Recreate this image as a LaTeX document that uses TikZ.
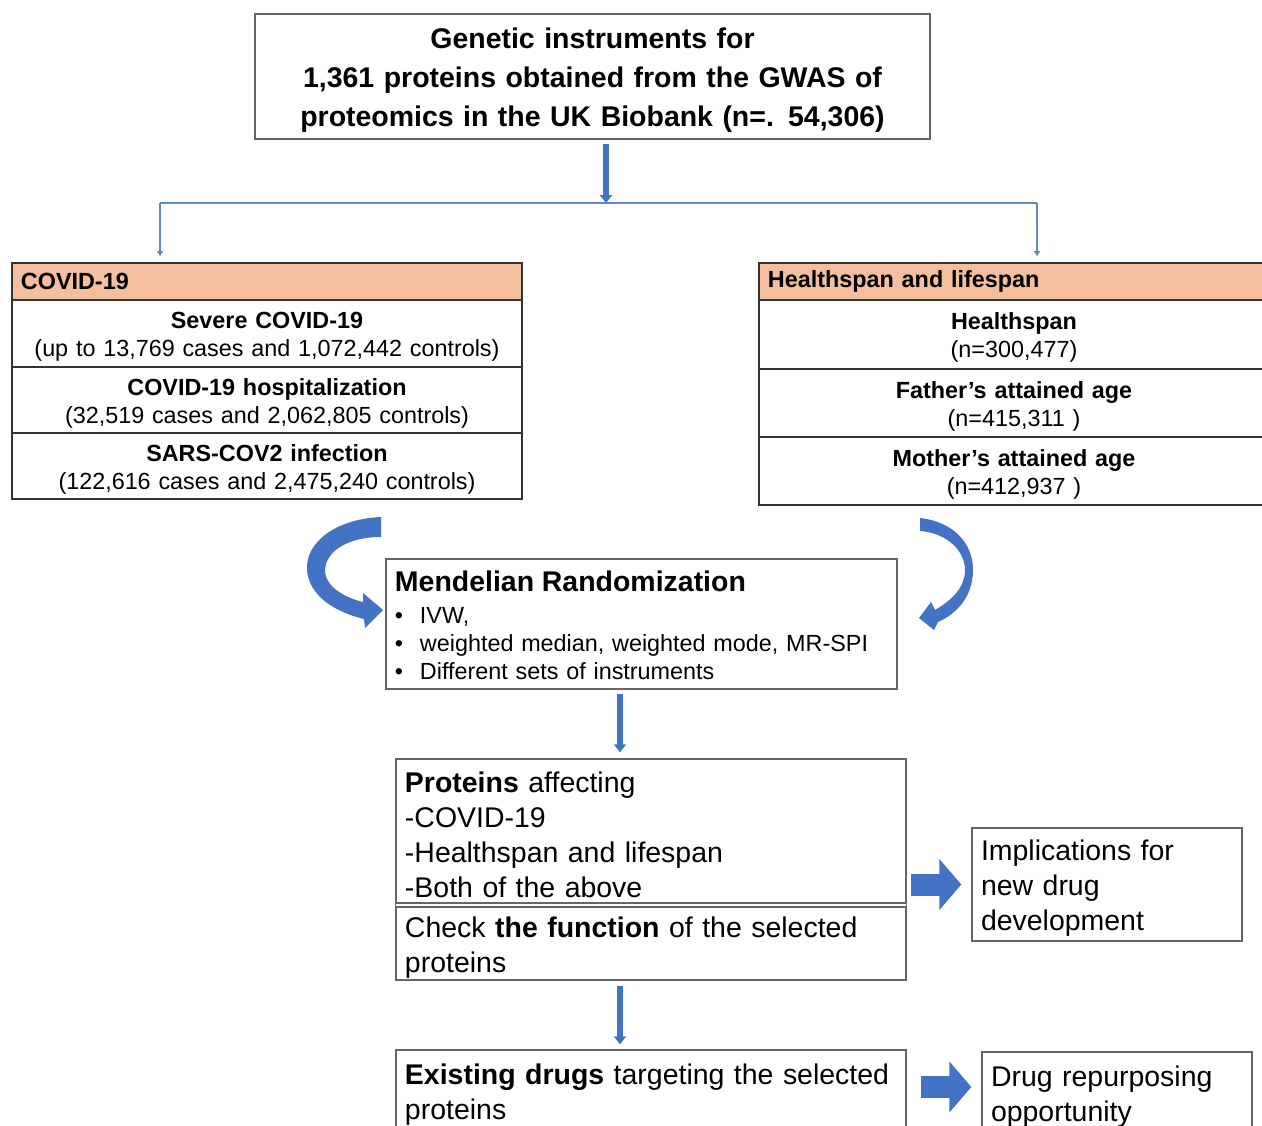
\documentclass[tikz,border=0pt]{standalone}
\usepackage{fontspec}
\setmainfont{Liberation Sans}
\usetikzlibrary{arrows.meta,calc}
\definecolor{arrowblue}{HTML}{4472C4}
\definecolor{peach}{HTML}{F3BF9C}
\newcommand{\lgfont}{\fontsize{16.2pt}{22.2pt}\selectfont}
\newcommand{\mdfont}{\fontsize{16.2pt}{19.9pt}\selectfont}
\newcommand{\smfont}{\fontsize{13.3pt}{15.9pt}\selectfont}
\newcommand{\placebox}[7]{
	\pgfmathsetmacro{\boxw}{(#4-#2)*0.02}
	\pgfmathsetmacro{\boxh}{(#5-#3)*0.02}
	\pgfmathsetmacro{\textw}{\boxw-0.36}
	\node[#6, minimum width=\boxw cm, minimum height=\boxh cm, text width=\textw cm] (#1) at ({(#2+#4)/2},{(#3+#5)/2}) {#7};
}
\newcommand{\mritem}[1]{\makebox[0.5cm][l]{\textbullet}#1}
\tikzset{
	lift/.style={execute at begin node={\rule{0pt}{1em}}},
	frame/.style={draw=black!60, line width=0.8pt, inner xsep=0.18cm, inner ysep=0pt, align=left, font=\mdfont, lift},
	cell/.style={draw=black!80, line width=0.9pt, inner xsep=0.18cm, inner ysep=0pt, align=center, font=\smfont, lift},
	headcell/.style={draw=black!80, line width=0.9pt, inner xsep=0.18cm, inner ysep=0pt, fill=peach, align=left, font=\smfont\bfseries},
	flow/.style={draw=arrowblue, line width=3.4pt, -{Triangle[length=0.16cm,width=0.24cm]}},
	feed/.style={draw=arrowblue!85, line width=0.7pt},
	fat/.style={draw=arrowblue, line width=0.44cm, -{Triangle[length=0.44cm,width=1cm]}}
}

\begin{document}
\begin{tikzpicture}[x=0.02cm, y=-0.02cm]
	\useasboundingbox (0,0) rectangle (1262,1126);
	\placebox{top}{255}{14}{930}{139}{frame, align=center, font=\lgfont\bfseries}{Genetic instruments for\\1,361 proteins obtained from the GWAS of\\proteomics in the UK Biobank (n=. 54,306)}

	\placebox{covhead}{12}{263}{522}{300}{headcell}{COVID-19}
	\placebox{covA}{12}{300}{522}{367}{cell}{\textbf{Severe COVID-19}\\(up to 13,769 cases and 1,072,442 controls)}
	\placebox{covB}{12}{367}{522}{433}{cell}{\textbf{COVID-19 hospitalization}\\(32,519 cases and 2,062,805 controls)}
	\placebox{covC}{12}{433}{522}{499}{cell}{\textbf{SARS-COV2 infection}\\(122,616 cases and 2,475,240 controls)}

	\placebox{lifehead}{759}{263}{1269}{300}{headcell}{Healthspan and lifespan}
	\placebox{lifeA}{759}{300}{1269}{369}{cell}{\textbf{Healthspan}\\(n=300,477)}
	\placebox{lifeB}{759}{369}{1269}{437}{cell}{\textbf{Father’s attained age}\\(n=415,311 )}
	\placebox{lifeC}{759}{437}{1269}{505}{cell}{\textbf{Mother’s attained age}\\(n=412,937 )}

	\placebox{mr}{386}{559}{897}{689}{frame, font=\smfont}{{\lgfont\bfseries Mendelian Randomization}\\[2pt]\mritem{IVW,}\\\mritem{weighted median, weighted mode, MR-SPI}\\\mritem{Different sets of instruments}}

	\placebox{prot}{396}{759}{906}{903}{frame}{\textbf{Proteins} affecting\\-COVID-19\\-Healthspan and lifespan\\-Both of the above}
	\placebox{func}{396}{907}{906}{980}{frame}{Check \textbf{the function} of the selected\\proteins}
	\draw[black!60, line width=0.8pt] (prot.north west) rectangle (func.south east);
	\placebox{impl}{972}{828}{1242}{941}{frame}{Implications for\\new drug\\development}

	\placebox{drugs}{396}{1050}{906}{1131}{frame}{\textbf{Existing drugs} targeting the selected\\proteins}
	\placebox{repurp}{982}{1052}{1252}{1133}{frame}{Drug repurposing\\opportunity}

	\coordinate (split) at (606,203);
	\coordinate (ltap) at (160,203);
	\coordinate (rtap) at (1037,203);
	\draw[flow, shorten <=0.08cm] (top.south -| split) -- (split);
	\draw[feed] (ltap) -- (rtap);
	\draw[feed, -{Triangle[length=0.1cm,width=0.12cm]}, shorten >=0.12cm] (ltap) -- (ltap |- covhead.north);
	\draw[feed, -{Triangle[length=0.1cm,width=0.12cm]}, shorten >=0.12cm] (rtap) -- (rtap |- lifehead.north);

	% bent arrows into the MR box
	\fill[arrowblue] (381,517) .. controls (335,519) and (305,543) .. (307,570) .. controls (309,596) and (335,612) .. (364,619) -- (365,628) -- (383,610) -- (363,593) -- (363,602) .. controls (343,597) and (325,586) .. (325,570) .. controls (326,551) and (348,537) .. (381,537) -- cycle;
	\fill[arrowblue] (920,518) .. controls (955,522) and (974,545) .. (973,572) .. controls (972,598) and (956,614) .. (938,622) -- (934,630) -- (919,618) -- (931,602) -- (935,610) .. controls (952,600) and (964,588) .. (965,572) .. controls (966,552) and (948,533) .. (920,531) -- cycle;

	\draw[flow, shorten <=0.08cm, shorten >=0.12cm] (mr.south -| 620,0) -- (prot.north -| 620,0);
	\draw[flow, shorten <=0.1cm, shorten >=0.1cm] (func.south -| 620,0) -- (drugs.north -| 620,0);
	\draw[fat, shorten <=0.08cm, shorten >=0.2cm] (impl.west -| prot.east) -- (impl.west);
	\draw[fat, shorten <=0.28cm, shorten >=0.2cm] (drugs.east |- 0,1087) -- (repurp.west |- 0,1087);
\end{tikzpicture}
\end{document}
